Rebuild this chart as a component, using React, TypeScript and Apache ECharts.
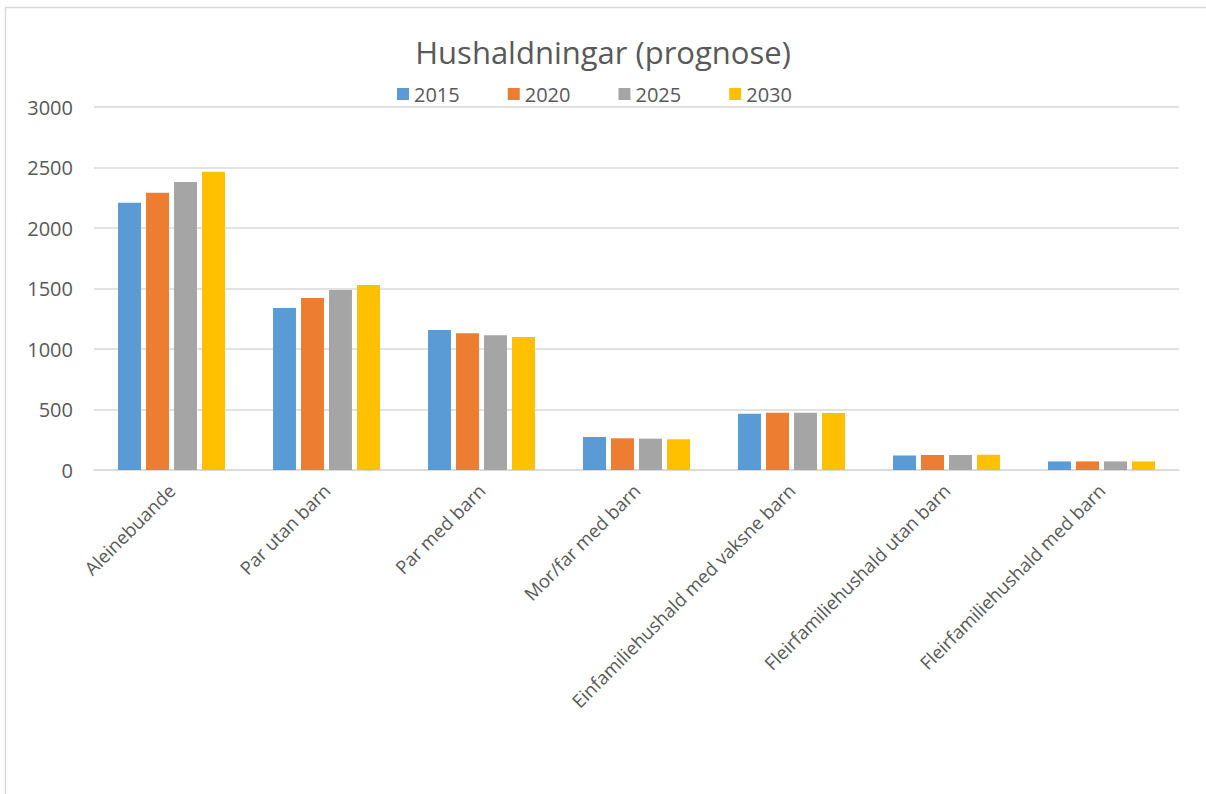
import React, { useEffect, useRef } from "react";
import * as echarts from "echarts";

const categories = [
  "Aleinebuande",
  "Par utan barn",
  "Par med barn",
  "Mor/far med barn",
  "Einfamiliehushald med vaksne barn",
  "Fleirfamiliehushald utan barn",
  "Fleirfamiliehushald med barn",
];
const seriesNames = ["2015", "2020", "2025", "2030"];
const v2015 = [2209, 1339, 1157, 273, 465, 120, 71];
const v2020 = [2292, 1421, 1130, 262, 474, 124, 71];
const v2025 = [2380, 1488, 1113, 259, 474, 124, 71];
const v2030 = [2465, 1529, 1099, 254, 471, 126, 71];
const colors = ["#5b9bd5", "#ed7d31", "#a5a5a5", "#ffc000"];

const FONT = "'Open Sans', sans-serif";
const TEXT = "#595959";

export default function App() {
  const ref = useRef<HTMLDivElement>(null);
  useEffect(() => {
    if (!ref.current) return;
    const chart = echarts.init(ref.current, null, { renderer: "svg" });
    const values = [v2015, v2020, v2025, v2030];
    chart.setOption({
      animation: false,
      backgroundColor: "#ffffff",
      color: colors,
      title: {
        text: "Hushaldningar (prognose)",
        left: "center",
        top: 31,
        itemGap: 0,
        textStyle: { fontFamily: FONT, fontSize: 31, fontWeight: "normal", color: TEXT },
      },
      legend: {
        top: 84,
        left: 397,
        padding: 0,
        itemWidth: 12,
        itemHeight: 12,
        itemGap: 48,
        icon: "rect",
        textStyle: { fontFamily: FONT, fontSize: 20, color: TEXT },
        data: seriesNames,
      },
      grid: { left: 94, right: 27, top: 107, bottom: 324, containLabel: false },
      xAxis: {
        type: "category",
        data: categories,
        axisLine: { lineStyle: { color: "#d9d9d9", width: 1.5 } },
        axisTick: { show: false },
        axisLabel: {
          rotate: 45,
          interval: 0,
          margin: 17,
          fontFamily: FONT,
          fontSize: 18.5,
          color: TEXT,
        },
      },
      yAxis: {
        type: "value",
        min: 0,
        max: 3000,
        interval: 500,
        axisLine: { show: false },
        axisTick: { show: false },
        axisLabel: {
          margin: 21,
          fontFamily: FONT,
          fontSize: 20,
          color: TEXT,
          formatter: (v: number) => String(v),
        },
        splitLine: { lineStyle: { color: "#d9d9d9", width: 1.5 } },
      },
      graphic: [
        { type: "line", shape: { x1: 5, y1: 7.5, x2: 1206, y2: 7.5 }, style: { stroke: "#d9d9d9", lineWidth: 1.5 } },
        { type: "line", shape: { x1: 5.5, y1: 7, x2: 5.5, y2: 794 }, style: { stroke: "#d9d9d9", lineWidth: 1.5 } },
      ],
      series: seriesNames.map((name, i) => ({
        name,
        type: "bar",
        data: values[i],
        barGap: "22%",
        barCategoryGap: "31%",
        itemStyle: { color: colors[i] },
      })),
    });
    return () => chart.dispose();
  }, []);
  return (
    <div
      ref={ref}
      style={{ position: "absolute", left: 0, top: 0, width: 1206, height: 794 }}
    />
  );
}
